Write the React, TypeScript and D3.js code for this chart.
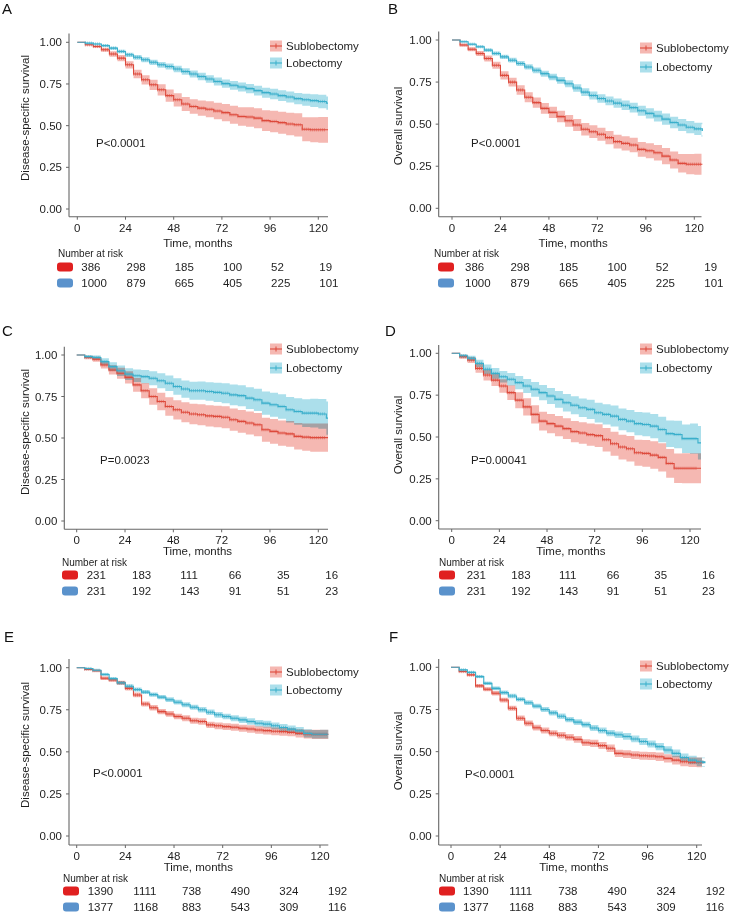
import React from "react";
import * as d3 from "d3";

// ---------- DATA ----------
const TIME = [0,4,8,12,16,20,24,28,32,36,40,44,48,52,56,60,64,68,72,76,80,84,88,92,96,100,104,108,112,116,120,124];
const X_TICKS = [0,24,48,72,96,120];
const Y_TICKS = [0,0.25,0.5,0.75,1];
const Y_TICK_LABELS = ["0.00","0.25","0.50","0.75","1.00"];
const RISK_TIMES = [0,24,48,72,96,120];
const GROUPS = ["Sublobectomy","Lobectomy"];

const A_SUB = [1,0.985,0.975,0.955,0.93,0.905,0.865,0.81,0.775,0.745,0.715,0.68,0.655,0.63,0.615,0.605,0.598,0.588,0.578,0.565,0.555,0.552,0.545,0.53,0.525,0.518,0.51,0.505,0.478,0.475,0.475,0.475];
const A_SUB_CI = [0,0.004,0.008,0.012,0.016,0.019,0.022,0.025,0.028,0.031,0.034,0.037,0.04,0.042,0.044,0.046,0.048,0.05,0.052,0.054,0.056,0.058,0.06,0.062,0.064,0.066,0.068,0.07,0.072,0.075,0.077,0.077];
const A_LOB = [1,0.995,0.99,0.98,0.965,0.945,0.925,0.91,0.895,0.88,0.865,0.855,0.84,0.825,0.81,0.795,0.78,0.765,0.752,0.742,0.732,0.722,0.71,0.698,0.69,0.68,0.672,0.662,0.655,0.65,0.645,0.635];
const A_LOB_CI = [0,0.003,0.005,0.007,0.009,0.011,0.013,0.014,0.015,0.016,0.017,0.018,0.019,0.02,0.021,0.022,0.023,0.024,0.025,0.026,0.027,0.028,0.029,0.03,0.031,0.032,0.033,0.034,0.036,0.038,0.04,0.04];

const B_SUB = [1,0.97,0.945,0.92,0.89,0.85,0.79,0.75,0.703,0.66,0.628,0.594,0.57,0.545,0.52,0.495,0.47,0.455,0.44,0.42,0.396,0.386,0.376,0.35,0.342,0.33,0.31,0.287,0.267,0.262,0.262,0.262];
const B_SUB_CI = [0,0.008,0.012,0.015,0.018,0.021,0.024,0.026,0.028,0.03,0.031,0.032,0.033,0.034,0.035,0.036,0.037,0.038,0.039,0.04,0.041,0.042,0.043,0.044,0.045,0.046,0.048,0.05,0.055,0.06,0.062,0.062];
const B_LOB = [1,0.99,0.975,0.96,0.94,0.92,0.9,0.88,0.86,0.84,0.82,0.8,0.78,0.76,0.74,0.715,0.69,0.67,0.652,0.638,0.625,0.612,0.598,0.58,0.564,0.548,0.53,0.51,0.495,0.482,0.472,0.462];
const B_LOB_CI = [0,0.004,0.006,0.008,0.01,0.012,0.013,0.014,0.015,0.016,0.017,0.018,0.019,0.02,0.021,0.022,0.023,0.024,0.025,0.026,0.027,0.028,0.029,0.03,0.031,0.032,0.033,0.034,0.035,0.036,0.037,0.037];

const C_SUB = [1,0.985,0.975,0.94,0.91,0.89,0.865,0.82,0.785,0.75,0.72,0.69,0.67,0.655,0.645,0.64,0.633,0.63,0.625,0.61,0.6,0.59,0.58,0.55,0.54,0.53,0.525,0.51,0.505,0.502,0.502,0.502];
const C_SUB_CI = [0,0.01,0.015,0.022,0.028,0.033,0.037,0.042,0.046,0.05,0.053,0.056,0.058,0.06,0.062,0.063,0.064,0.065,0.066,0.067,0.068,0.069,0.07,0.072,0.074,0.076,0.078,0.08,0.082,0.085,0.085,0.085];
const C_LOB = [1,0.99,0.985,0.96,0.93,0.905,0.885,0.875,0.87,0.86,0.845,0.83,0.81,0.795,0.785,0.785,0.78,0.775,0.77,0.76,0.755,0.74,0.73,0.71,0.7,0.69,0.67,0.66,0.65,0.65,0.645,0.62];
const C_LOB_CI = [0,0.008,0.012,0.02,0.026,0.031,0.035,0.038,0.04,0.042,0.045,0.047,0.05,0.052,0.054,0.055,0.056,0.058,0.06,0.062,0.063,0.065,0.067,0.07,0.072,0.074,0.077,0.08,0.083,0.086,0.09,0.1];

const D_SUB = [1,0.98,0.96,0.91,0.87,0.84,0.805,0.765,0.72,0.68,0.635,0.595,0.58,0.565,0.55,0.532,0.524,0.514,0.508,0.484,0.46,0.44,0.43,0.406,0.402,0.392,0.378,0.342,0.313,0.313,0.313,0.313];
const D_SUB_CI = [0,0.012,0.018,0.026,0.032,0.036,0.04,0.044,0.048,0.051,0.054,0.056,0.058,0.06,0.062,0.063,0.064,0.066,0.068,0.07,0.072,0.074,0.076,0.078,0.08,0.082,0.084,0.086,0.088,0.09,0.09,0.09];
const D_LOB = [1,0.985,0.97,0.94,0.905,0.88,0.86,0.845,0.825,0.805,0.785,0.765,0.745,0.725,0.705,0.69,0.675,0.665,0.645,0.635,0.625,0.605,0.595,0.58,0.575,0.565,0.545,0.52,0.515,0.49,0.49,0.465];
const D_LOB_CI = [0,0.01,0.015,0.022,0.028,0.032,0.035,0.038,0.04,0.042,0.044,0.046,0.048,0.05,0.052,0.054,0.055,0.057,0.059,0.061,0.063,0.065,0.067,0.069,0.071,0.073,0.076,0.079,0.082,0.085,0.09,0.1];

const E_SUB = [1,0.99,0.982,0.937,0.927,0.91,0.877,0.838,0.784,0.762,0.739,0.725,0.71,0.7,0.685,0.68,0.66,0.655,0.65,0.646,0.64,0.636,0.63,0.626,0.622,0.62,0.616,0.61,0.606,0.604,0.604,0.604];
const E_SUB_CI = [0,0.004,0.006,0.01,0.011,0.012,0.013,0.014,0.015,0.016,0.016,0.017,0.017,0.018,0.018,0.019,0.019,0.02,0.02,0.021,0.021,0.022,0.022,0.023,0.023,0.024,0.024,0.025,0.026,0.027,0.028,0.028];
const E_LOB = [1,0.995,0.985,0.96,0.935,0.91,0.89,0.87,0.855,0.84,0.825,0.81,0.795,0.78,0.765,0.75,0.735,0.72,0.71,0.7,0.69,0.68,0.67,0.665,0.655,0.645,0.635,0.625,0.61,0.605,0.605,0.605];
const E_LOB_CI = [0,0.003,0.005,0.008,0.009,0.01,0.011,0.012,0.012,0.013,0.013,0.014,0.014,0.015,0.015,0.016,0.016,0.017,0.017,0.018,0.018,0.019,0.019,0.02,0.02,0.021,0.022,0.023,0.024,0.025,0.026,0.026];

const F_SUB = [1,0.975,0.955,0.89,0.87,0.846,0.806,0.757,0.698,0.668,0.642,0.625,0.609,0.597,0.585,0.573,0.553,0.549,0.536,0.52,0.49,0.486,0.48,0.476,0.474,0.47,0.46,0.45,0.44,0.437,0.437,0.437];
const F_SUB_CI = [0,0.006,0.008,0.011,0.012,0.013,0.014,0.015,0.016,0.017,0.017,0.018,0.018,0.019,0.019,0.02,0.02,0.021,0.021,0.022,0.022,0.023,0.023,0.024,0.024,0.025,0.025,0.026,0.027,0.028,0.029,0.029];
const F_LOB = [1,0.985,0.97,0.945,0.905,0.875,0.85,0.83,0.81,0.79,0.77,0.75,0.73,0.71,0.69,0.675,0.66,0.64,0.625,0.61,0.6,0.59,0.575,0.56,0.545,0.53,0.51,0.49,0.465,0.45,0.44,0.435];
const F_LOB_CI = [0,0.004,0.006,0.008,0.01,0.011,0.012,0.013,0.013,0.014,0.014,0.015,0.015,0.016,0.016,0.017,0.017,0.018,0.018,0.019,0.019,0.02,0.02,0.021,0.021,0.022,0.022,0.023,0.024,0.025,0.026,0.026];

const RISK_AB_SUB = [386,298,185,100,52,19];
const RISK_AB_LOB = [1000,879,665,405,225,101];
const RISK_CD_SUB = [231,183,111,66,35,16];
const RISK_CD_LOB = [231,192,143,91,51,23];
const RISK_EF_SUB = [1390,1111,738,490,324,192];
const RISK_EF_LOB = [1377,1168,883,543,309,116];

const P_VALUES = ["P<0.0001","P<0.0001","P=0.0023","P=0.00041","P<0.0001","P<0.0001"];
const Y_TITLES = ["Disease-specific survival","Overall survival","Disease-specific survival","Overall survival","Disease-specific survival","Overall survival"];
const LETTERS = ["A","B","C","D","E","F"];

// ---------- STYLE ----------
const FONT = "'Liberation Sans', Arial, Helvetica, sans-serif";
const SUB_LINE = "#DD4A3C";
const SUB_RIB = "#F5B8B2";
const LOB_LINE = "#3AAFCB";
const LOB_RIB = "#ACDFEB";
const RISK_RED = "#E02020";
const RISK_BLUE = "#5A92CC";
const AXIS = "#666";
const TXT = "#1e1e1e";

// layout of each panel (pixels)
const LAYOUT = [
  { letter: [2, 14], axisX: 69, x0: 77.3, x120: 318.3, xEnd: 328, y1: 42.3, y0: 209, top: 33.5, bottom: 216.7,
    yTitle: [25, 118], xTitleY: 243, pv: [96, 143], leg: [270, 46, 63], risk: [58, 253, 57, 267, 283, 1] },
  { letter: [388, 14], axisX: 438.7, x0: 452, x120: 694.3, xEnd: 701.5, y1: 40, y0: 208.3, top: 31.5, bottom: 216.7,
    yTitle: [398, 126], xTitleY: 243, pv: [471, 143], leg: [640, 48, 67], risk: [434, 253, 438, 267, 283, 10] },
  { letter: [2, 336], axisX: 64.3, x0: 76.7, x120: 318.3, xEnd: 328, y1: 355, y0: 521, top: 346.7, bottom: 529.3,
    yTitle: [25, 432], xTitleY: 551, pv: [100, 460], leg: [270, 349, 368], risk: [62, 562, 62, 575, 591, 7] },
  { letter: [385, 336], axisX: 438.7, x0: 451.7, x120: 690, xEnd: 701, y1: 353.3, y0: 520.7, top: 345, bottom: 529,
    yTitle: [398, 435], xTitleY: 551, pv: [471, 460], leg: [640, 349, 368], risk: [439, 562, 439, 575, 591, 12] },
  { letter: [4, 642], axisX: 69, x0: 76.7, x120: 320, xEnd: 328.3, y1: 667.7, y0: 836, top: 659, bottom: 845,
    yTitle: [25, 745], xTitleY: 867, pv: [93, 773], leg: [270, 672, 690], risk: [63, 878, 63, 891, 907, 8] },
  { letter: [389, 642], axisX: 438.7, x0: 451, x120: 696.7, xEnd: 702, y1: 667.3, y0: 836, top: 659, bottom: 845,
    yTitle: [398, 751], xTitleY: 867, pv: [465, 774], leg: [640, 666, 684], risk: [439, 878, 439, 891, 907, 9] },
];

const SERIES = [
  [A_SUB, A_SUB_CI, A_LOB, A_LOB_CI, RISK_AB_SUB, RISK_AB_LOB],
  [B_SUB, B_SUB_CI, B_LOB, B_LOB_CI, RISK_AB_SUB, RISK_AB_LOB],
  [C_SUB, C_SUB_CI, C_LOB, C_LOB_CI, RISK_CD_SUB, RISK_CD_LOB],
  [D_SUB, D_SUB_CI, D_LOB, D_LOB_CI, RISK_CD_SUB, RISK_CD_LOB],
  [E_SUB, E_SUB_CI, E_LOB, E_LOB_CI, RISK_EF_SUB, RISK_EF_LOB],
  [F_SUB, F_SUB_CI, F_LOB, F_LOB_CI, RISK_EF_SUB, RISK_EF_LOB],
];

type Pt = { t: number; s: number; lo: number; hi: number };

function build(s: number[], ci: number[], tEnd: number): Pt[] {
  const pts: Pt[] = TIME.map((t, i) => ({ t, s: s[i], lo: Math.max(0, s[i] - ci[i]), hi: Math.min(1, s[i] + ci[i]) }));
  const last = pts[pts.length - 1];
  pts.push({ ...last, t: tEnd });
  return pts;
}

function Ribbon({ pts, x, y, fill }: any) {
  const area = d3.area<Pt>().x(d => x(d.t)).y0(d => y(d.lo)).y1(d => y(d.hi)).curve(d3.curveStepAfter);
  return <path d={area(pts) || ""} fill={fill} stroke="none" style={{ mixBlendMode: "multiply" }} />;
}

function Curve({ pts, x, y, line }: any) {
  const ln = d3.line<Pt>().x(d => x(d.t)).y(d => y(d.s)).curve(d3.curveStepAfter);
  const marks: { t: number; s: number }[] = [];
  for (let i = 1; i < TIME.length; i++) {
    for (const k of [0, 1, 2, 3]) marks.push({ t: TIME[i] + k, s: pts[i].s });
  }
  return (
    <g>
      <path d={ln(pts) || ""} fill="none" stroke={line} strokeWidth={1.1} />
      {marks.filter(m => m.t < 124).map((m, i) => (
        <line key={i} x1={x(m.t)} x2={x(m.t)} y1={y(m.s) - 1.6} y2={y(m.s) + 1.6} stroke={line} strokeWidth={0.6} />
      ))}
    </g>
  );
}

function Panel({ idx }: { idx: number }) {
  const L = LAYOUT[idx];
  const [sub, subCi, lob, lobCi, r1, r2] = SERIES[idx];
  const x = d3.scaleLinear().domain([0, 120]).range([L.x0, L.x120]);
  const y = d3.scaleLinear().domain([0, 1]).range([L.y0, L.y1]);
  const tEnd = x.invert(L.xEnd);
  const subPts = build(sub, subCi, tEnd);
  const lobPts = build(lob, lobCi, tEnd);
  const [lx, ly1, ly2] = L.leg;
  const [narX, narY, swX, row1, row2, off] = L.risk;
  const fs = 11.5;
  return (
    <g fontFamily={FONT}>
      <text x={L.letter[0]} y={L.letter[1]} fontSize={15} fill="#111">{LETTERS[idx]}</text>
      <g style={{ isolation: "isolate" }}>
        <Ribbon pts={subPts} x={x} y={y} fill={SUB_RIB} />
        <Ribbon pts={lobPts} x={x} y={y} fill={LOB_RIB} />
      </g>
      <Curve pts={subPts} x={x} y={y} line={SUB_LINE} />
      <Curve pts={lobPts} x={x} y={y} line={LOB_LINE} />
      {/* axes */}
      <line x1={L.axisX} x2={L.axisX} y1={L.top} y2={L.bottom} stroke={AXIS} strokeWidth={1.1} />
      <line x1={L.axisX} x2={L.xEnd} y1={L.bottom} y2={L.bottom} stroke={AXIS} strokeWidth={1.1} />
      {Y_TICKS.map((v, i) => (
        <g key={"y" + i}>
          <line x1={L.axisX - 3} x2={L.axisX} y1={y(v)} y2={y(v)} stroke={AXIS} strokeWidth={1} />
          <text x={L.axisX - 7} y={y(v)} dy="0.35em" textAnchor="end" fontSize={fs} fill={TXT}>{Y_TICK_LABELS[i]}</text>
        </g>
      ))}
      {X_TICKS.map((v, i) => (
        <g key={"x" + i}>
          <line x1={x(v)} x2={x(v)} y1={L.bottom} y2={L.bottom + 3} stroke={AXIS} strokeWidth={1} />
          <text x={x(v)} y={L.bottom + 11} dy="0.35em" textAnchor="middle" fontSize={fs} fill={TXT}>{v}</text>
        </g>
      ))}
      <text x={(L.x0 + L.x120) / 2} y={L.xTitleY} dy="0.35em" textAnchor="middle" fontSize={fs} fill={TXT}>Time, months</text>
      <text transform={`translate(${L.yTitle[0]},${L.yTitle[1]}) rotate(-90)`} dy="0.35em" textAnchor="middle" fontSize={fs} fill={TXT}>{Y_TITLES[idx]}</text>
      <text x={L.pv[0]} y={L.pv[1]} dy="0.35em" fontSize={fs} fill={TXT}>{P_VALUES[idx]}</text>
      {/* legend */}
      {[ly1, ly2].map((ly, i) => (
        <g key={"l" + i}>
          <rect x={lx} y={ly - 5.5} width={12} height={11} fill={i === 0 ? SUB_RIB : LOB_RIB} />
          <line x1={lx} x2={lx + 12} y1={ly} y2={ly} stroke={i === 0 ? SUB_LINE : LOB_LINE} strokeWidth={1.1} />
          <line x1={lx + 6} x2={lx + 6} y1={ly - 2.5} y2={ly + 2.5} stroke={i === 0 ? SUB_LINE : LOB_LINE} strokeWidth={1} />
          <text x={lx + 16} y={ly} dy="0.35em" fontSize={fs} fill={TXT}>{GROUPS[i]}</text>
        </g>
      ))}
      {/* risk table */}
      <text x={narX} y={narY} dy="0.35em" fontSize={10} fill={TXT}>Number at risk</text>
      {[r1, r2].map((row, ri) => (
        <g key={"r" + ri}>
          <rect x={swX} y={(ri === 0 ? row1 : row2) - 4.5} width={16} height={9} rx={3} fill={ri === 0 ? RISK_RED : RISK_BLUE} />
          {row.map((n: number, j: number) => (
            <text key={j} x={x(RISK_TIMES[j]) + off + (j === 0 ? 3 : 0)} y={ri === 0 ? row1 : row2} dy="0.35em" fontSize={fs} fill={TXT}>{n}</text>
          ))}
        </g>
      ))}
    </g>
  );
}

export default function App() {
  return (
    <svg width={732} height={914} style={{ position: "absolute", left: 0, top: 0, background: "#fff" }}>
      <rect width={732} height={914} fill="#fff" />
      {LAYOUT.map((_, i) => <Panel key={i} idx={i} />)}
    </svg>
  );
}
